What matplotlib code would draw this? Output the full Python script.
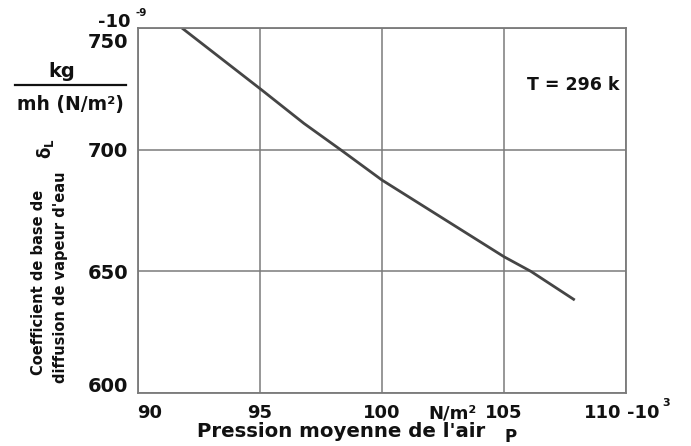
import matplotlib
matplotlib.use("Agg")
import matplotlib.pyplot as plt
from matplotlib.lines import Line2D
from matplotlib.transforms import ScaledTranslation

# curve (P in 10^3 N/m2, delta_L in 10^-9 kg/(m h N/m2))
pressure = [91.8, 95.1, 96.8, 98.3, 100.0, 105.0, 106.1, 107.9]
delta_l = [750.0, 724.3, 710.8, 700.0, 687.5, 656.0, 650.0, 638.2]

x_ticks = [90, 95, 100, 105, 110]
y_ticks = [600, 650, 700, 750]

W, H = 691, 446
FONT = "DejaVu Sans"
GRID = "#7a7a7a"
INK = "#111111"


def fx(px):
    return px / W


def fy(py):
    return 1 - py / H


def shift(label, dx, dy):
    # nudge a tick label by pixels (dy positive = down)
    off = ScaledTranslation(dx / 100, -dy / 100, fig.dpi_scale_trans)
    label.set_transform(label.get_transform() + off)


plt.rcParams["font.family"] = [FONT]
plt.rcParams["font.weight"] = "bold"

fig = plt.figure(figsize=(W / 100, H / 100), dpi=100)
ax = fig.add_axes([fx(138), fy(393), fx(626) - fx(138), fy(28) - fy(393)])

ax.plot(pressure, delta_l, color="#454545", linewidth=2.0, solid_capstyle="butt")

ax.set_xlim(90, 110)
ax.set_ylim(600, 750)
ax.set_xticks(x_ticks)
ax.set_yticks(y_ticks)
ax.grid(True, color=GRID, linewidth=1.1)
for sp in ax.spines.values():
    sp.set_color(GRID)
    sp.set_linewidth(1.3)
ax.tick_params(length=0)

ax.set_xticklabels([str(v) for v in x_ticks], fontsize=13, fontweight="bold", color=INK)
ax.tick_params(axis="x", pad=8)
xl = ax.get_xticklabels()
shift(xl[0], 12, 0)
shift(xl[-1], -23, 0)

ax.set_yticklabels([str(v) for v in y_ticks], fontsize=14, fontweight="bold", color=INK)
ax.tick_params(axis="y", pad=7)
yl = ax.get_yticklabels()
shift(yl[0], 0, -8.5)
shift(yl[-1], 0, 12.5)


def txt(x, y, s, size, ha="left", va="baseline", **kw):
    fig.text(fx(x), fy(y), s, fontsize=size, fontweight="bold", color=INK,
             ha=ha, va=va, **kw)


# unit annotations
txt(98, 27, "-10", 13)
txt(135, 16, "-9", 7.5)
txt(627, 418, "-10", 13)
txt(662, 406, "3", 8)
txt(428, 418, "N/m²", 13)

txt(62, 77, "kg", 14, ha="center")
fig.add_artist(Line2D([fx(15), fx(126)], [fy(85), fy(85)], color=INK, linewidth=1.6))
txt(70, 110, "mh (N/m²)", 13.5, ha="center")

fig.text(fx(45), fy(149), r"δ$_{\mathrm{L}}$", fontsize=12, color=INK, rotation=90,
         ha="center", va="center")
txt(39, 282, "Coefficient de base de", 10.5, ha="center", va="center", rotation=90)
txt(61, 277, "diffusion de vapeur d'eau", 10.5, ha="center", va="center", rotation=90)

txt(527, 90, "T = 296 k", 12.5)

txt(341, 437, "Pression moyenne de l'air", 14.2, ha="center")
txt(511, 446, "P", 12, ha="center", va="bottom")

fig.savefig("out.png", dpi=100, facecolor="white")
plt.close(fig)
